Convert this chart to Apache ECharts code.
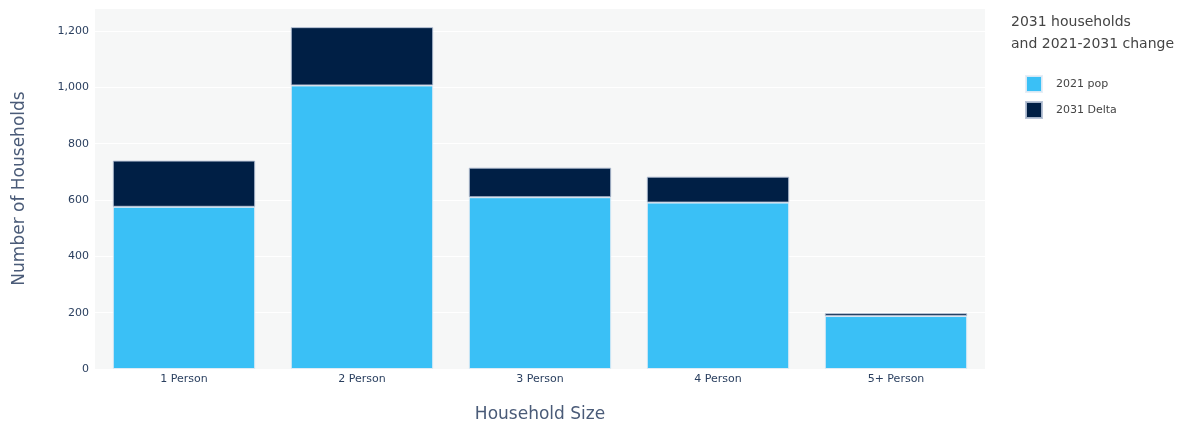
<!DOCTYPE html>
<html>
<head>
<meta charset="utf-8">
<script src="https://cdn.jsdelivr.net/npm/echarts@6/dist/echarts.min.js"></script>
<style>
html,body{margin:0;padding:0;background:#fff;}
#chart{width:1183px;height:423px;}
</style>
</head>
<body>
<div id="chart"></div>
<script>
var categories = ['1 Person', '2 Person', '3 Person', '4 Person', '5+ Person'];
var pop2021 = [576, 1007, 610, 591, 188];
var delta2031 = [164, 207, 105, 92, 10];
var seriesNames = ['2021 pop', '2031 Delta'];

var chart = echarts.init(document.getElementById('chart'));
var txt = '#2a3f5f';
var font = 'DejaVu Sans, Verdana, sans-serif';

chart.setOption({
	animation: false,
	textStyle: {fontFamily: font},
	title: {
		text: '2031 households\nand 2021-2031 change',
		left: 1006,
		top: 6,
		textStyle: {fontSize: 14, fontWeight: 'normal', color: '#444', lineHeight: 22, fontFamily: font}
	},
	legend: {
		orient: 'vertical',
		left: 1020,
		top: 70,
		itemWidth: 16,
		itemHeight: 16,
		itemGap: 8,
		icon: 'rect',
		textStyle: {fontSize: 11, color: '#444', padding: [0, 0, 0, 9]},
		data: seriesNames
	},
	grid: {
		left: 95,
		right: 198,
		top: 8,
		bottom: 54,
		outerBoundsMode: 'none',
		containLabel: false,
		show: true,
		backgroundColor: '#f6f7f7',
		borderWidth: 0
	},
	xAxis: {
		type: 'category',
		data: categories,
		name: 'Household Size',
		nameLocation: 'middle',
		nameGap: 37,
		nameTextStyle: {fontSize: 17, color: '#4a5b78'},
		axisLine: {show: false},
		axisTick: {show: false},
		axisLabel: {color: txt, fontSize: 11, margin: 5}
	},
	yAxis: {
		type: 'value',
		min: 0,
		max: 1282,
		interval: 200,
		name: 'Number of Households',
		nameLocation: 'middle',
		nameGap: 67,
		nameTextStyle: {fontSize: 17, color: '#4a5b78'},
		axisLine: {show: false},
		axisTick: {show: false},
		splitLine: {lineStyle: {color: '#ffffff', width: 1}},
		axisLabel: {
			color: txt, fontSize: 11, margin: 6, showMaxLabel: false,
			formatter: function(v){ return v.toLocaleString('en-US'); }
		}
	},
	series: [
		{
			name: seriesNames[0],
			type: 'bar',
			stack: 'total',
			barCategoryGap: '20%',
			itemStyle: {color: '#3ac0f6', borderColor: 'rgba(230,236,245,0.9)', borderWidth: 1},
			data: pop2021
		},
		{
			name: seriesNames[1],
			type: 'bar',
			stack: 'total',
			itemStyle: {color: '#001f45', borderColor: 'rgba(180,192,212,0.9)', borderWidth: 1},
			data: delta2031
		}
	]
});
</script>
</body>
</html>
